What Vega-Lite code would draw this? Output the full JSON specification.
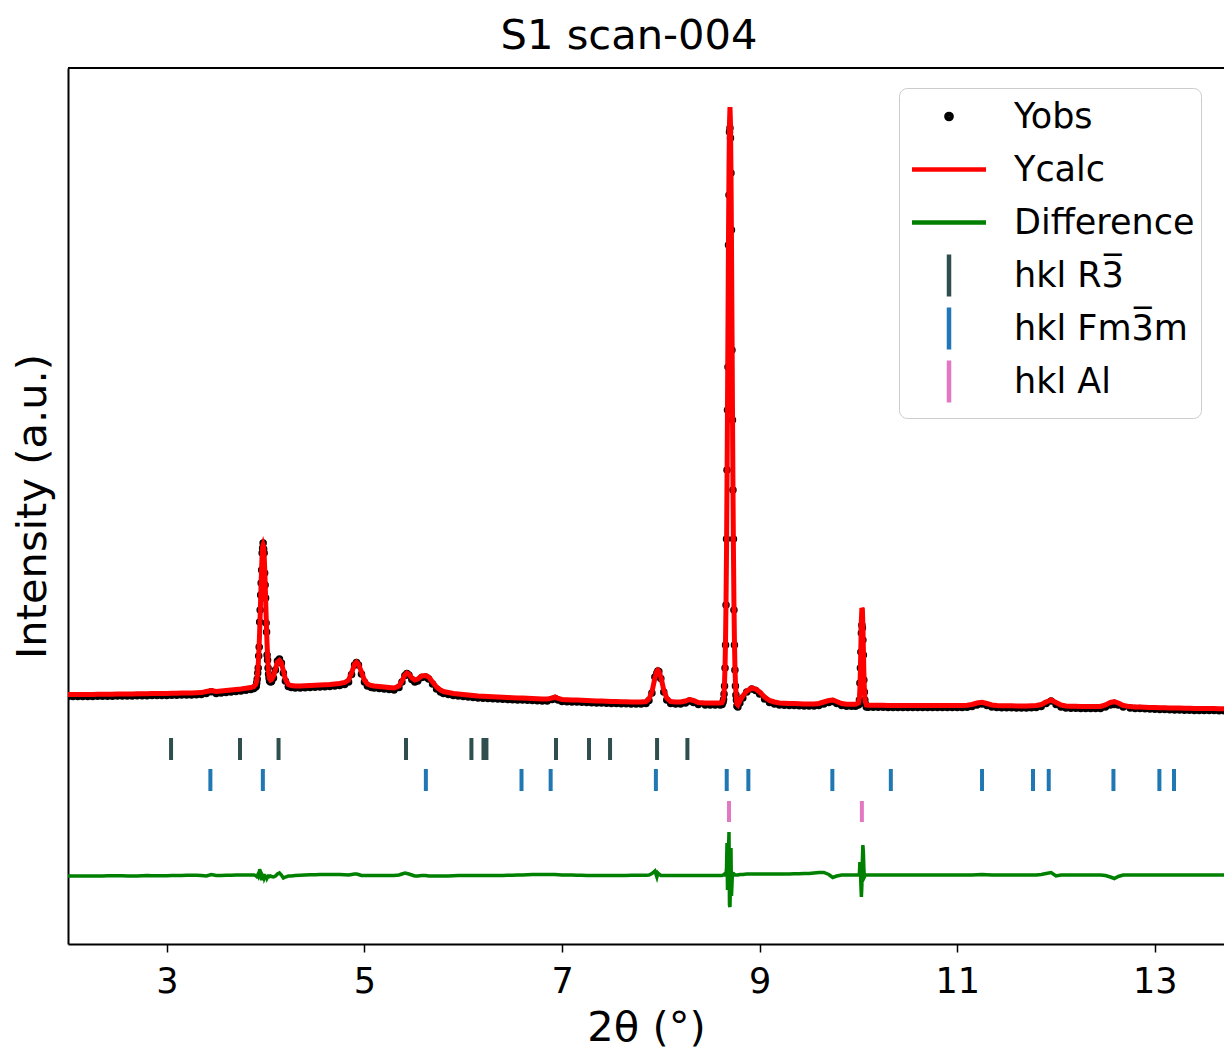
{
"$schema": "https://vega.github.io/schema/vega-lite/v6.json",
"width": 1156, "height": 876,
"autosize": {"type": "none"},
"padding": {"left": 68, "top": 68, "right": 0, "bottom": 111},
"config": {"view": {"stroke": null}, "font": "DejaVu Sans"},
"title": {"text": "S1 scan-004", "font": "DejaVu Sans", "fontSize": 41.6, "fontWeight": "normal", "color": "black", "anchor": "middle", "dx": -17, "dy": 42, "offset": 18, "baseline": "alphabetic"},
"datasets": {
"leg": [{"s":"Yobs"},{"s":"Ycalc"},{"s":"Difference"},{"s":"hkl R3\u0305"},{"s":"hkl Fm3\u0305m"},{"s":"hkl Al"}],
"prof": [
{"x":2.00,"c":249.5,"o":247.5,"d":68},{"x":2.05,"c":249.5,"o":247.5,"d":68},{"x":2.10,"c":249.5,"o":247.5,"d":68},{"x":2.15,"c":249.5,"o":247.5,"d":68},
{"x":2.20,"c":249.6,"o":247.6,"d":68},{"x":2.25,"c":249.6,"o":247.6,"d":68},{"x":2.30,"c":249.7,"o":247.7,"d":68},{"x":2.35,"c":249.7,"o":247.7,"d":68},
{"x":2.40,"c":249.8,"o":247.8,"d":68.2},{"x":2.45,"c":249.8,"o":247.8,"d":68.3},{"x":2.50,"c":249.9,"o":247.9,"d":68.3},{"x":2.55,"c":250,"o":248,"d":68.2},
{"x":2.60,"c":250,"o":248,"d":68},{"x":2.65,"c":250.1,"o":248.1,"d":68},{"x":2.70,"c":250.2,"o":248.2,"d":68.1},{"x":2.75,"c":250.2,"o":248.2,"d":68.3},
{"x":2.80,"c":250.3,"o":248.3,"d":68.4},{"x":2.85,"c":250.4,"o":248.4,"d":68.3},{"x":2.90,"c":250.5,"o":248.5,"d":68.2},{"x":2.95,"c":250.5,"o":248.5,"d":68.2},
{"x":3.00,"c":250.6,"o":248.6,"d":68.3},{"x":3.05,"c":250.7,"o":248.7,"d":68.4},{"x":3.10,"c":250.8,"o":248.8,"d":68.5},{"x":3.15,"c":250.9,"o":248.9,"d":68.6},
{"x":3.20,"c":251,"o":249,"d":68.7},{"x":3.25,"c":251.1,"o":249.1,"d":68.8},{"x":3.30,"c":251.2,"o":249.2,"d":68.8},{"x":3.35,"c":251.4,"o":249.4,"d":68.6},
{"x":3.40,"c":252.5,"o":250.5,"d":68},{"x":3.45,"c":253.5,"o":252.3,"d":69.5},{"x":3.50,"c":252.5,"o":250.5,"d":68.5},{"x":3.55,"c":253,"o":251,"d":68.6},
{"x":3.60,"c":253.5,"o":251.5,"d":68.7},{"x":3.65,"c":254,"o":252,"d":68.8},{"x":3.70,"c":254.5,"o":252.5,"d":68.9},{"x":3.75,"c":255,"o":253,"d":69},
{"x":3.80,"c":255.7,"o":253.7,"d":69},{"x":3.85,"c":256.5,"o":254.5,"d":69},{"x":3.88,"c":257.5,"o":255.5,"d":69},
{"x":3.90,"c":259.5,"o":257,"d":68.5},{"x":3.905,"c":261,"o":258,"d":68},{"x":3.91,"c":263.5,"o":261,"d":67.5},{"x":3.915,"c":267,"o":265,"d":68},
{"x":3.92,"c":272,"o":271,"d":69},{"x":3.925,"c":279,"o":276,"d":68},{"x":3.93,"c":288,"o":288,"d":70},{"x":3.935,"c":299.4,"o":297,"d":68},
{"x":3.94,"c":313.3,"o":322,"d":75},{"x":3.945,"c":329,"o":334,"d":72},{"x":3.95,"c":345.8,"o":349,"d":70},{"x":3.955,"c":362.4,"o":361,"d":66},
{"x":3.96,"c":377.4,"o":374,"d":64},{"x":3.965,"c":389.5,"o":391,"d":69},{"x":3.97,"c":397.3,"o":396,"d":68},{"x":3.975,"c":399,"o":401,"d":70},
{"x":3.98,"c":397.3,"o":395,"d":67},{"x":3.985,"c":389.5,"o":391,"d":70},{"x":3.99,"c":377.4,"o":371,"d":66},{"x":3.995,"c":362.4,"o":359,"d":67},
{"x":4.00,"c":345.8,"o":346,"d":69},{"x":4.005,"c":329,"o":321,"d":65},{"x":4.01,"c":313.3,"o":312,"d":68},{"x":4.015,"c":299.4,"o":289,"d":66},
{"x":4.02,"c":288,"o":284,"d":67},{"x":4.025,"c":279,"o":276,"d":68},{"x":4.03,"c":272,"o":270,"d":68},{"x":4.035,"c":268,"o":266,"d":68},
{"x":4.04,"c":265.5,"o":263,"d":67.5},{"x":4.05,"c":264,"o":262,"d":68},{"x":4.06,"c":264.5,"o":262.5,"d":67.5},{"x":4.08,"c":268,"o":266,"d":67},
{"x":4.10,"c":275,"o":274,"d":68},{"x":4.12,"c":282,"o":283,"d":70},{"x":4.14,"c":283.5,"o":285,"d":71},{"x":4.16,"c":281,"o":281,"d":69},
{"x":4.18,"c":273,"o":271,"d":66},{"x":4.20,"c":265,"o":263,"d":67},{"x":4.23,"c":259.5,"o":257.5,"d":68},{"x":4.26,"c":258.5,"o":256.5,"d":68},
{"x":4.30,"c":258,"o":256,"d":68.5},{"x":4.35,"c":258,"o":256,"d":68.7},{"x":4.40,"c":258.2,"o":256.2,"d":69},{"x":4.45,"c":258.5,"o":256.5,"d":69.2},
{"x":4.50,"c":258.7,"o":256.7,"d":69.3},{"x":4.55,"c":259,"o":257,"d":69.4},{"x":4.60,"c":259.2,"o":257.2,"d":69.5},{"x":4.65,"c":259.5,"o":257.5,"d":69.5},
{"x":4.70,"c":260,"o":258,"d":69.5},{"x":4.75,"c":260.5,"o":258.5,"d":69.4},{"x":4.80,"c":261.5,"o":259.5,"d":69.3},{"x":4.84,"c":264,"o":262,"d":69},
{"x":4.87,"c":271,"o":269.5,"d":69.5},{"x":4.90,"c":280,"o":279,"d":70},{"x":4.92,"c":282,"o":281.5,"d":70},{"x":4.94,"c":280,"o":279,"d":69.5},
{"x":4.97,"c":272,"o":270,"d":68.5},{"x":5.00,"c":264,"o":262,"d":68.5},{"x":5.03,"c":260,"o":258,"d":68.5},{"x":5.07,"c":258.5,"o":256.5,"d":68.5},
{"x":5.10,"c":258,"o":256,"d":68.5},{"x":5.15,"c":257.5,"o":255.5,"d":68.5},{"x":5.20,"c":257,"o":255,"d":68.5},{"x":5.25,"c":256.5,"o":254.5,"d":68.5},
{"x":5.30,"c":256,"o":254,"d":68.5},{"x":5.35,"c":258,"o":256.5,"d":69},{"x":5.38,"c":263,"o":262,"d":70},{"x":5.41,"c":269,"o":268.5,"d":71},
{"x":5.43,"c":271,"o":270.5,"d":70.5},{"x":5.45,"c":270,"o":269,"d":70},{"x":5.48,"c":266,"o":264.5,"d":69},{"x":5.51,"c":264,"o":262,"d":68},
{"x":5.54,"c":265,"o":263,"d":68},{"x":5.58,"c":268,"o":266.5,"d":68.5},{"x":5.62,"c":268.5,"o":267,"d":68.5},{"x":5.65,"c":267,"o":265,"d":68},
{"x":5.69,"c":262,"o":260,"d":68},{"x":5.73,"c":257,"o":255,"d":68},{"x":5.77,"c":254,"o":252,"d":68},{"x":5.80,"c":252.5,"o":250.5,"d":68},
{"x":5.85,"c":251.5,"o":249.5,"d":68},{"x":5.90,"c":250.5,"o":248.5,"d":68.2},{"x":5.95,"c":250,"o":248,"d":68.4},{"x":6.00,"c":249.5,"o":247.5,"d":68.5},
{"x":6.05,"c":249,"o":247,"d":68.5},{"x":6.10,"c":248.5,"o":246.5,"d":68.5},{"x":6.15,"c":248,"o":246,"d":68.5},{"x":6.20,"c":247.7,"o":245.7,"d":68.5},
{"x":6.25,"c":247.4,"o":245.4,"d":68.5},{"x":6.30,"c":247.2,"o":245.2,"d":68.5},{"x":6.35,"c":247,"o":245,"d":68.5},{"x":6.40,"c":246.7,"o":244.7,"d":68.6},
{"x":6.45,"c":246.5,"o":244.5,"d":68.7},{"x":6.50,"c":246.3,"o":244.3,"d":68.8},{"x":6.55,"c":246.1,"o":244.1,"d":68.9},{"x":6.60,"c":245.9,"o":243.9,"d":69},
{"x":6.65,"c":245.7,"o":243.7,"d":69.2},{"x":6.70,"c":245.5,"o":243.5,"d":69.4},{"x":6.75,"c":245.3,"o":243.3,"d":69.5},{"x":6.80,"c":245.1,"o":243.1,"d":69.5},
{"x":6.85,"c":244.9,"o":242.9,"d":69.4},{"x":6.90,"c":246,"o":244.5,"d":69.5},{"x":6.93,"c":247,"o":245.5,"d":69.5},{"x":6.96,"c":245.5,"o":244,"d":69.3},
{"x":7.00,"c":244.5,"o":242.5,"d":69},{"x":7.05,"c":244.3,"o":242.3,"d":69},{"x":7.10,"c":244.1,"o":242.1,"d":68.9},{"x":7.15,"c":243.9,"o":241.9,"d":68.8},
{"x":7.20,"c":243.7,"o":241.7,"d":68.7},{"x":7.25,"c":243.5,"o":241.5,"d":68.6},{"x":7.30,"c":243.3,"o":241.3,"d":68.5},{"x":7.35,"c":243.1,"o":241.1,"d":68.5},
{"x":7.40,"c":242.9,"o":240.9,"d":68.5},{"x":7.45,"c":242.7,"o":240.7,"d":68.5},{"x":7.50,"c":242.5,"o":240.5,"d":68.5},{"x":7.55,"c":242.4,"o":240.4,"d":68.5},
{"x":7.60,"c":242.3,"o":240.3,"d":68.5},{"x":7.65,"c":242.2,"o":240.2,"d":68.6},{"x":7.70,"c":242.1,"o":240.1,"d":68.7},{"x":7.75,"c":242,"o":240,"d":68.8},
{"x":7.80,"c":242,"o":240,"d":68.8},{"x":7.85,"c":242.5,"o":240.5,"d":68.8},{"x":7.88,"c":245,"o":243.5,"d":69},{"x":7.91,"c":252,"o":251,"d":70.5},
{"x":7.94,"c":266,"o":267,"d":73},{"x":7.96,"c":273,"o":271,"d":67},{"x":7.97,"c":274,"o":273,"d":71},{"x":7.98,"c":273,"o":272.5,"d":70},
{"x":8.00,"c":267,"o":265.5,"d":68.5},{"x":8.03,"c":254,"o":252,"d":68.5},{"x":8.06,"c":246,"o":244,"d":68.5},{"x":8.10,"c":242.5,"o":240.5,"d":68.5},
{"x":8.15,"c":242,"o":240,"d":68.5},{"x":8.20,"c":242,"o":240,"d":68.5},{"x":8.25,"c":243,"o":241,"d":68.5},{"x":8.29,"c":244.5,"o":243,"d":68.5},
{"x":8.33,"c":243.5,"o":241.5,"d":68.5},{"x":8.38,"c":241.5,"o":239.5,"d":68.5},{"x":8.45,"c":241,"o":239,"d":68.5},{"x":8.50,"c":241,"o":239,"d":68.5},
{"x":8.55,"c":241,"o":239,"d":68.5},{"x":8.60,"c":241,"o":239,"d":68.5},{"x":8.62,"c":241.5,"o":239.5,"d":68.5},{"x":8.63,"c":243.6,"o":242,"d":69},
{"x":8.635,"c":246.5,"o":244.5,"d":69},{"x":8.64,"c":252,"o":250,"d":69.5},{"x":8.645,"c":262,"o":258,"d":69},{"x":8.65,"c":278,"o":276,"d":69},
{"x":8.655,"c":304,"o":299,"d":70},{"x":8.66,"c":342,"o":339,"d":70},{"x":8.665,"c":394,"o":405,"d":76},{"x":8.67,"c":461,"o":474,"d":101},
{"x":8.675,"c":539,"o":534,"d":54},{"x":8.68,"c":623.5,"o":577,"d":76},{"x":8.685,"c":705.4,"o":699,"d":94},{"x":8.69,"c":774.4,"o":749,"d":112},
{"x":8.695,"c":821,"o":812,"d":39},{"x":8.70,"c":837,"o":816,"d":37},{"x":8.705,"c":821,"o":806,"d":64},{"x":8.71,"c":774.4,"o":771,"d":96},
{"x":8.715,"c":705.4,"o":714,"d":48},{"x":8.72,"c":623.5,"o":594,"d":59},{"x":8.725,"c":539,"o":524,"d":72},{"x":8.73,"c":461,"o":454,"d":68},
{"x":8.735,"c":394,"o":405,"d":70},{"x":8.74,"c":342,"o":334,"d":70},{"x":8.745,"c":304,"o":299,"d":69},{"x":8.75,"c":278,"o":274,"d":69},
{"x":8.755,"c":262,"o":258,"d":69},{"x":8.76,"c":252,"o":249,"d":69},{"x":8.765,"c":246.5,"o":244,"d":69},{"x":8.77,"c":240,"o":238,"d":69},
{"x":8.78,"c":239,"o":237,"d":69},{"x":8.80,"c":243,"o":241,"d":69.5},{"x":8.83,"c":248,"o":246,"d":69.5},{"x":8.87,"c":253,"o":252,"d":70},
{"x":8.92,"c":256,"o":255,"d":70},{"x":8.96,"c":255,"o":253.5,"d":70},{"x":9.00,"c":252,"o":250,"d":70},{"x":9.05,"c":247,"o":245,"d":70},
{"x":9.10,"c":243.5,"o":241.5,"d":70},{"x":9.15,"c":242,"o":240,"d":70},{"x":9.20,"c":241,"o":239,"d":70},{"x":9.25,"c":240.7,"o":238.7,"d":70},
{"x":9.30,"c":240.5,"o":238.5,"d":70},{"x":9.35,"c":240.4,"o":238.4,"d":70.3},{"x":9.40,"c":240.2,"o":238.2,"d":70.3},{"x":9.45,"c":240.1,"o":238.1,"d":70.5},
{"x":9.50,"c":240,"o":238,"d":70.5},{"x":9.55,"c":240,"o":238,"d":71},{"x":9.60,"c":240.5,"o":238.5,"d":71.5},{"x":9.65,"c":242,"o":240,"d":71.5},
{"x":9.70,"c":243.5,"o":241.5,"d":69.5},{"x":9.74,"c":244,"o":242.5,"d":66.5},{"x":9.78,"c":242.5,"o":240.5,"d":68},{"x":9.83,"c":240.5,"o":238.5,"d":69},
{"x":9.88,"c":239.8,"o":237.8,"d":69},{"x":9.93,"c":239.7,"o":237.7,"d":69},{"x":9.97,"c":239.7,"o":237.7,"d":69},{"x":10.00,"c":241,"o":239,"d":69},
{"x":10.01,"c":246,"o":244,"d":71},{"x":10.015,"c":256,"o":261,"d":82},{"x":10.02,"c":274,"o":276,"d":78},{"x":10.025,"c":299,"o":292,"d":59},
{"x":10.03,"c":324,"o":311,"d":47},{"x":10.035,"c":336,"o":319,"d":59},{"x":10.04,"c":335,"o":316,"d":84},{"x":10.045,"c":319,"o":304,"d":99},
{"x":10.05,"c":296,"o":289,"d":92},{"x":10.055,"c":272,"o":264,"d":76},{"x":10.06,"c":255,"o":252,"d":67},{"x":10.065,"c":246,"o":244,"d":68},
{"x":10.07,"c":242,"o":240,"d":69},{"x":10.08,"c":239,"o":237,"d":69},{"x":10.10,"c":238.8,"o":236.8,"d":69},{"x":10.15,"c":238.8,"o":236.8,"d":69},
{"x":10.20,"c":238.7,"o":236.7,"d":69},{"x":10.25,"c":238.7,"o":236.7,"d":69},{"x":10.30,"c":238.6,"o":236.6,"d":69},{"x":10.35,"c":238.6,"o":236.6,"d":69},
{"x":10.40,"c":238.5,"o":236.5,"d":69},{"x":10.45,"c":238.5,"o":236.5,"d":69},{"x":10.50,"c":238.4,"o":236.4,"d":69},{"x":10.55,"c":238.4,"o":236.4,"d":69},
{"x":10.60,"c":238.4,"o":236.4,"d":69},{"x":10.65,"c":238.4,"o":236.4,"d":69},{"x":10.70,"c":238.4,"o":236.4,"d":69},{"x":10.75,"c":238.4,"o":236.4,"d":69},
{"x":10.80,"c":238.4,"o":236.4,"d":69},{"x":10.85,"c":238.4,"o":236.4,"d":69},{"x":10.90,"c":238.4,"o":236.4,"d":69},{"x":10.95,"c":238.4,"o":236.4,"d":69},
{"x":11.00,"c":238.4,"o":236.4,"d":69},{"x":11.05,"c":238.5,"o":236.5,"d":69},{"x":11.10,"c":238.7,"o":236.7,"d":69},{"x":11.15,"c":239.5,"o":237.5,"d":69},
{"x":11.20,"c":241,"o":239,"d":69.3},{"x":11.25,"c":241.7,"o":240,"d":69.5},{"x":11.30,"c":240.5,"o":238.5,"d":69.2},{"x":11.35,"c":239,"o":237,"d":69},
{"x":11.40,"c":238.4,"o":236.4,"d":69},{"x":11.45,"c":238.3,"o":236.3,"d":69},{"x":11.50,"c":238.2,"o":236.2,"d":69},{"x":11.55,"c":238.2,"o":236.2,"d":69},
{"x":11.60,"c":238.1,"o":236.1,"d":69},{"x":11.65,"c":238,"o":236,"d":69},{"x":11.70,"c":238,"o":236,"d":69},{"x":11.75,"c":238.2,"o":236.2,"d":69},
{"x":11.80,"c":238.5,"o":236.5,"d":69},{"x":11.85,"c":239.5,"o":237.5,"d":69.5},{"x":11.90,"c":242,"o":240.5,"d":70.5},{"x":11.95,"c":244,"o":243,"d":71.5},
{"x":12.00,"c":241.5,"o":239.5,"d":68},{"x":12.05,"c":239,"o":237,"d":69},{"x":12.10,"c":238,"o":236,"d":69},{"x":12.15,"c":237.8,"o":235.8,"d":69},
{"x":12.20,"c":237.7,"o":235.7,"d":69},{"x":12.25,"c":237.6,"o":235.6,"d":69},{"x":12.30,"c":237.5,"o":235.5,"d":69},{"x":12.35,"c":237.4,"o":235.4,"d":69},
{"x":12.40,"c":237.4,"o":235.4,"d":69},{"x":12.45,"c":237.5,"o":235.5,"d":69},{"x":12.50,"c":239,"o":237,"d":68.5},{"x":12.55,"c":241.5,"o":239,"d":67},
{"x":12.59,"c":242.3,"o":239.5,"d":65.5},{"x":12.63,"c":241,"o":239,"d":67.5},{"x":12.68,"c":238.5,"o":237,"d":69},{"x":12.75,"c":237.4,"o":236,"d":69},
{"x":12.80,"c":237.1,"o":235.6,"d":69},{"x":12.85,"c":236.9,"o":235.4,"d":69},{"x":12.90,"c":236.7,"o":235.2,"d":69},{"x":12.95,"c":236.5,"o":235,"d":69},
{"x":13.00,"c":236.4,"o":234.8,"d":69},{"x":13.05,"c":236.3,"o":234.6,"d":69},{"x":13.10,"c":236.2,"o":234.4,"d":69},{"x":13.15,"c":236.1,"o":234.2,"d":69},
{"x":13.20,"c":236,"o":234,"d":69},{"x":13.25,"c":235.9,"o":233.9,"d":69},{"x":13.30,"c":235.8,"o":233.8,"d":69},{"x":13.35,"c":235.7,"o":233.7,"d":69},
{"x":13.40,"c":235.6,"o":233.6,"d":69},{"x":13.45,"c":235.6,"o":233.6,"d":69},{"x":13.50,"c":235.5,"o":233.5,"d":69},{"x":13.55,"c":235.4,"o":233.4,"d":69},
{"x":13.60,"c":235.4,"o":233.4,"d":69},{"x":13.65,"c":235.3,"o":233.3,"d":69},{"x":13.70,"c":235.3,"o":233.3,"d":69}
],
"r3": [{"x":3.043},{"x":3.741},{"x":4.131},{"x":5.421},{"x":6.083},{"x":6.205},{"x":6.235},{"x":6.939},{"x":7.273},{"x":7.486},{"x":7.962},{"x":8.269}],
"fm": [{"x":3.441},{"x":3.972},{"x":5.622},{"x":6.590},{"x":6.885},{"x":7.950},{"x":8.667},{"x":8.886},{"x":9.736},{"x":10.328},{"x":11.251},{"x":11.767},{"x":11.926},{"x":12.581},{"x":13.046},{"x":13.194}],
"al": [{"x":8.690},{"x":10.035}]
},
"layer": [
{"data": {"name": "prof"},
 "mark": {"type": "circle", "size": 56, "opacity": 1, "color": "black", "clip": true},
 "encoding": {
  "x": {"field": "x", "type": "quantitative", "scale": {"domain": [2, 13.7], "nice": false, "zero": false},
        "axis": {"title": "2θ (°)", "values": [3,5,7,9,11,13], "format": "d", "grid": false, "domainColor": "black", "domainWidth": 2, "tickColor": "black", "tickWidth": 1.5, "tickSize": 8, "labelFont": "DejaVu Sans", "labelFontSize": 35, "labelColor": "black", "labelPadding": 12, "labelFlush": false, "titleFont": "DejaVu Sans", "titleFontSize": 41.6, "titleFontWeight": "normal", "titleColor": "black", "titlePadding": 8}},
  "y": {"field": "o", "type": "quantitative", "scale": {"domain": [0, 876], "nice": false, "zero": false},
        "axis": {"title": "Intensity (a.u.)", "labels": false, "ticks": false, "grid": false, "domainColor": "black", "domainWidth": 2, "titleFont": "DejaVu Sans", "titleFontSize": 41.6, "titleFontWeight": "normal", "titleColor": "black", "titlePadding": 14}}
 }},
{"data": {"name": "prof"},
 "mark": {"type": "line", "strokeWidth": 5, "color": "#ff0000", "clip": true},
 "encoding": {"x": {"field": "x", "type": "quantitative"}, "y": {"field": "c", "type": "quantitative"}}},
{"data": {"name": "prof"},
 "mark": {"type": "line", "strokeWidth": 3.5, "color": "#008000", "clip": true},
 "encoding": {"x": {"field": "x", "type": "quantitative"}, "y": {"field": "d", "type": "quantitative"}}},
{"data": {"name": "r3"},
 "mark": {"type": "rule", "strokeWidth": 4, "color": "#2f4f4f"},
 "encoding": {"x": {"field": "x", "type": "quantitative"}, "y": {"datum": 184}, "y2": {"datum": 206}}},
{"data": {"name": "fm"},
 "mark": {"type": "rule", "strokeWidth": 4, "color": "#1f77b4"},
 "encoding": {"x": {"field": "x", "type": "quantitative"}, "y": {"datum": 153}, "y2": {"datum": 175}}},
{"data": {"name": "al"},
 "mark": {"type": "rule", "strokeWidth": 4, "color": "#e377c2"},
 "encoding": {"x": {"field": "x", "type": "quantitative"}, "y": {"datum": 122}, "y2": {"datum": 143}}},
{"data": {"values": [{}]},
 "mark": {"type": "rule", "color": "black", "strokeWidth": 2},
 "encoding": {"y": {"datum": 876}}},
{"data": {"name": "leg"},
 "mark": {"type": "point", "filled": false, "opacity": 0},
 "encoding": {
  "color": {"field": "s", "type": "nominal",
   "scale": {"domain": ["Yobs", "Ycalc", "Difference", "hkl R3\u0305", "hkl Fm3\u0305m", "hkl Al"], "range": ["#000000", "#ff0000", "#008000", "#2f4f4f", "#1f77b4", "#e377c2"]},
   "legend": {"title": null, "orient": "none", "legendX": 831, "legendY": 20,
     "labelFont": "DejaVu Sans", "labelFontSize": 35, "labelColor": "black", "labelLimit": 500,
     "symbolSize": 1600, "symbolStrokeWidth": 4.5, "symbolOffset": 21.5, "labelOffset": 42.5, "symbolOpacity": 1,
     "rowPadding": -8.5, "padding": 6, "strokeColor": "#cccccc", "fillColor": "rgba(255,255,255,0.8)", "cornerRadius": 8}},
  "shape": {"field": "s", "type": "nominal",
   "scale": {"domain": ["Yobs", "Ycalc", "Difference", "hkl R3\u0305", "hkl Fm3\u0305m", "hkl Al"], "range": ["M0,-1.05M0,1.05M-0.13,0A0.13,0.13,0,1,0,0.13,0A0.13,0.13,0,1,0,-0.13,0Z", "M0,-1.05M0,1.05M-1.85,0L1.85,0", "M0,-1.05M0,1.05M-1.85,0L1.85,0", "M0,-1.05L0,1.05", "M0,-1.05L0,1.05", "M0,-1.05L0,1.05"]},
   "legend": {"title": null, "orient": "none", "legendX": 831, "legendY": 20,
     "labelFont": "DejaVu Sans", "labelFontSize": 35, "labelColor": "black", "labelLimit": 500,
     "symbolSize": 1600, "symbolStrokeWidth": 4.5, "symbolOffset": 21.5, "labelOffset": 42.5, "symbolOpacity": 1,
     "rowPadding": -8.5, "padding": 6, "strokeColor": "#cccccc", "fillColor": "rgba(255,255,255,0.8)", "cornerRadius": 8}}
 }}
]
}
